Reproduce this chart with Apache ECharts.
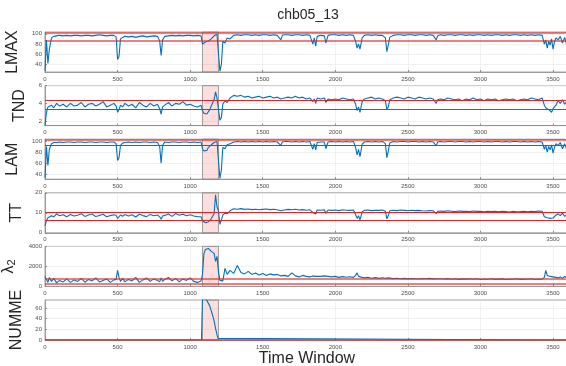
<!DOCTYPE html>
<html>
<head>
<meta charset="utf-8">
<script src="https://cdn.jsdelivr.net/npm/echarts@6/dist/echarts.min.js"></script>
<style>
  html, body { margin: 0; padding: 0; background: #fff; }
  #chart { width: 566px; height: 366px; }
</style>
</head>
<body>
<div id="chart"></div>
<script>
// time windows shared by the first five panels
var timeWin = [
  0, 10, 20, 30, 45, 60, 80,
  100, 125, 150, 175, 200, 225, 250, 275, 300, 325, 350, 375, 400, 425, 450, 475,
  490, 500, 510, 520, 535, 550,
  575, 600, 625, 650, 675, 700, 725, 750, 775,
  790, 800, 810,
  825, 850, 875, 900, 925, 950, 975, 1000, 1025, 1050, 1075,
  1085, 1095, 1105, 1115, 1125, 1135, 1145, 1155, 1165, 1175, 1185, 1195, 1205, 1215, 1225, 1240, 1255, 1275,
  1300, 1325, 1350, 1375, 1400, 1425, 1450, 1475, 1500, 1525, 1550, 1575, 1600,
  1625, 1635, 1650,
  1675, 1700, 1725, 1750, 1775, 1800, 1825,
  1845, 1855, 1865, 1875,
  1900, 1925, 1935, 1950,
  1975, 2000, 2025, 2050, 2075, 2100, 2125,
  2140, 2150, 2160, 2170, 2185,
  2200, 2225, 2250, 2275, 2300, 2325,
  2345, 2355, 2365, 2375,
  2400, 2425, 2450, 2475, 2500, 2525, 2550, 2575, 2600, 2625, 2650, 2675,
  2695, 2705,
  2725, 2750, 2775, 2800, 2825, 2850, 2875, 2900, 2925, 2950, 2975, 3000, 3025, 3050, 3075, 3100, 3125, 3150, 3175, 3200, 3225, 3250, 3275, 3300, 3325, 3350, 3375, 3400, 3425,
  3440, 3450, 3460, 3470, 3480, 3490, 3500, 3510, 3520,
  3535, 3550, 3565, 3580, 3595
];

var lmaxVals = [
  28, 88, 42, 70, 92, 95, 96,
  97, 96, 97, 96, 97, 97, 96, 97, 97, 96, 97, 98, 97, 96, 97, 97,
  94, 50, 56, 90, 93, 95,
  94, 95, 93, 95, 96, 94, 95, 96, 95,
  86, 58, 88,
  95, 96, 97, 96, 97, 96, 97, 97, 96, 97, 96,
  80, 78, 84, 82, 86, 88, 90, 93, 96, 98, 99, 96, 27, 40, 85, 82, 92, 90,
  97, 98, 97, 98, 98, 97, 98, 97, 98, 98, 97, 98, 97,
  88, 97, 98,
  98, 97, 98, 98, 97, 98, 97,
  80, 92, 76, 95,
  97, 96, 82, 97,
  98, 98, 97, 98, 97, 98, 97,
  85, 72, 80, 70, 92,
  97, 98, 97, 98, 97, 97,
  92, 65, 78, 93,
  97, 98, 98, 97, 98, 98, 97, 98, 98, 97, 98, 97,
  88, 96,
  98, 97, 98, 98, 97, 98, 98, 97, 98, 97, 98, 98, 97, 98, 97, 98, 98, 97, 98, 97, 98, 98, 97, 98, 97, 98, 97, 98, 97,
  80, 88, 72, 85, 78, 90, 70, 84, 92,
  88, 95, 82, 93, 78
];

var tndVals = [
  1.5, 3.0, 3.6, 3.4, 3.8, 3.5, 4.0,
  3.7, 3.9, 3.6, 4.0, 3.7, 3.8, 4.1, 3.6, 3.9, 4.0, 3.7, 3.9, 4.2, 3.6, 3.8, 4.0,
  3.7, 3.0, 3.3, 3.8, 3.6, 4.0,
  3.7, 3.9, 3.5, 4.1, 3.8, 3.6, 4.0, 3.7, 3.9,
  3.4, 2.8, 3.6,
  3.8, 4.1, 3.7, 4.0, 3.9, 4.2, 3.8, 3.9, 3.7, 3.6, 3.8,
  3.2, 2.9, 2.7, 2.8, 3.0, 3.3, 3.7, 3.9, 4.4, 5.3, 4.6, 4.4, 2.1, 2.4, 3.9, 4.3, 4.1, 4.6,
  4.9, 4.8, 4.9, 4.7, 4.8, 4.6, 4.7, 4.8, 4.6, 4.7, 4.8, 4.6, 4.7,
  4.5, 4.7, 4.6,
  4.7, 4.6, 4.8, 4.6, 4.7, 4.5, 4.6,
  4.2, 4.5, 4.0, 4.6,
  4.5, 4.6, 4.1, 4.5,
  4.4, 4.5, 4.4, 4.6, 4.5, 4.4, 4.5,
  3.9, 3.2, 3.6, 3.0, 4.2,
  4.5, 4.6, 4.7, 4.5, 4.6, 4.5,
  4.3, 3.3, 3.6, 4.4,
  4.6, 4.7, 4.6, 4.5, 4.7, 4.6, 4.5, 4.7, 4.6, 4.5, 4.6, 4.5,
  4.0, 4.4,
  4.5, 4.4, 4.6, 4.5, 4.4, 4.5, 4.3, 4.5, 4.4, 4.6, 4.4, 4.5, 4.3, 4.5, 4.4, 4.5, 4.3, 4.4, 4.5, 4.4, 4.5, 4.3, 4.4, 4.5, 4.4, 4.6, 4.5, 4.4, 4.6,
  3.8, 3.5, 3.6, 3.3, 3.5, 3.0, 3.4, 3.6, 3.8,
  4.3, 4.0, 4.4, 3.9, 4.2
];

var lamVals = [
  34, 90, 56, 85, 95, 97, 97,
  98, 97, 98, 98, 97, 98, 98, 97, 98, 98, 97, 98, 98, 97, 98, 98,
  95, 65, 70, 92, 96, 97,
  98, 97, 98, 97, 98, 98, 97, 98, 97,
  90, 60, 92,
  98, 97, 98, 98, 97, 98, 98, 97, 98, 97, 98,
  86, 82, 85, 83, 88, 90, 93, 95, 97, 98, 99, 97, 33, 48, 88, 86, 93, 95,
  98, 99, 98, 99, 98, 99, 98, 99, 98, 99, 98, 99, 98,
  92, 98, 99,
  99, 98, 99, 98, 99, 98, 99,
  85, 95, 84, 97,
  98, 98, 86, 98,
  99, 98, 99, 98, 99, 98, 99,
  88, 75, 85, 72, 94,
  98, 99, 98, 99, 98, 99,
  95, 70, 82, 96,
  99, 98, 99, 99, 98, 99, 99, 98, 99, 98, 99, 98,
  91, 98,
  99, 98, 99, 99, 98, 99, 99, 98, 99, 98, 99, 99, 98, 99, 98, 99, 99, 98, 99, 98, 99, 99, 98, 99, 98, 99, 98, 99, 98,
  85, 92, 80, 90, 84, 93, 78, 88, 95,
  92, 97, 86, 95, 84
];

var ttVals = [
  3.5, 6.0, 7.5, 7.0, 8.5, 8.0, 9.5,
  8.5, 9.0, 8.0, 9.2, 8.4, 8.8, 9.5, 8.2, 8.9, 9.4, 8.1, 8.7, 9.3, 8.0, 8.6, 9.0,
  8.8, 7.2, 7.8, 8.9, 8.3, 9.1,
  8.4, 9.0, 7.9, 9.3, 8.6, 8.1, 9.2, 8.5, 8.9,
  8.0, 6.8, 8.4,
  8.7, 9.4, 8.2, 9.6, 8.8, 9.3, 8.5, 9.0, 8.4, 8.1, 8.0,
  6.0, 5.2, 5.0, 5.1, 5.4, 6.0, 7.0, 8.0, 9.5, 19.0, 13.0, 11.0, 4.2, 4.8, 8.8, 9.8, 9.5, 11.0,
  12.0, 11.8, 12.1, 11.7, 11.9, 11.6, 11.8, 11.5, 11.7, 11.9, 11.6, 11.8, 11.5,
  11.0, 11.6, 11.4,
  11.7, 11.5, 11.8, 11.4, 11.6, 11.3, 11.5,
  10.2, 11.2, 9.4, 11.4,
  11.3, 11.5, 9.8, 11.4,
  11.2, 11.4, 11.1, 11.5, 11.3, 11.2, 11.4,
  9.0, 7.2, 8.5, 6.5, 10.5,
  11.2, 11.4, 11.1, 11.3, 11.2, 11.4,
  10.8, 7.0, 8.6, 11.0,
  11.3, 11.1, 11.4, 11.2, 11.0, 11.3, 11.1, 11.2, 11.0, 10.9, 11.1, 11.0,
  9.6, 10.8,
  10.9, 10.7, 11.0, 10.8, 10.6, 10.9, 10.7, 10.8, 10.6, 10.9, 10.7, 10.8, 10.5, 10.7, 10.6, 10.8, 10.5, 10.7, 10.6, 10.4, 10.7, 10.5, 10.6, 10.8, 10.5, 10.7, 10.6, 10.9, 10.8,
  8.0, 7.0, 7.5, 6.6, 7.2, 6.8, 7.4, 8.0, 8.8,
  9.5, 8.6, 9.8, 8.2, 9.0
];

var lambda2Vals = [
  1000, 700, 400, 900, 500, 800, 350,
  600, 450, 750, 400, 650, 500, 800, 420, 700, 550, 850, 450, 600, 750, 400, 650,
  700, 1600, 900, 500, 800, 450,
  700, 550, 900, 400, 650, 850, 500, 750, 600,
  450, 850, 500,
  700, 900, 550, 800, 450, 750, 600, 850, 500, 400, 550,
  1200, 3300, 3700, 3600, 3800, 3700, 3500, 3600, 3300, 2500, 3000, 1500, 600, 400, 550, 1800, 1200, 1600,
  1300, 2100, 1400, 1250, 1500, 1200, 1350, 1150, 1300, 1100, 1250, 1150, 1200,
  1050, 1200, 1100,
  1000, 1350, 1050, 950, 1100, 1000, 950,
  1050, 900, 1000, 950,
  1000, 1050, 950, 1000,
  950, 1000, 900, 980, 920, 960, 900,
  1100, 1350, 1000, 950, 900,
  850, 900, 820, 880, 800, 860,
  820, 780, 850, 800,
  780, 820, 760, 800, 750, 790, 770, 740, 780, 760, 800, 750,
  760, 800,
  770, 740, 780, 720, 760, 700, 750, 730, 770, 710, 760, 690, 740, 720, 760, 700, 730, 750, 690, 740, 710, 760, 700, 730, 720, 760, 690, 740, 720,
  900, 1600, 1100, 900, 1000, 850, 950, 800, 900,
  850, 950, 800, 1000, 900
];

// NUMME is flat zero outside the seizure window, so it has its own sparse windows
var nummeWin = [0, 495, 500, 505, 1078, 1085, 1095, 1105, 1115, 1125, 1135, 1145, 1155, 1165, 1175, 1185, 1192, 1200, 3445, 3450, 3455, 3600];
var nummeVals = [0, 0, 2, 0, 0, 78, 76, 80, 74, 72, 64, 55, 46, 36, 22, 10, 3, 0, 0, 2, 0, 0];

// thresholds (red lines) per panel
var lmaxLimits = [101.5, 87];
var tndLimits = [4.35, 3.3];
var lamLimits = [102, 92];
var ttLimits = [10.3, 6.5];
var lambda2Limits = [780, 250];
var nummeLimits = [0.6];

// y tick labels per panel
var lmaxTicks = [40, 60, 80, 100];
var tndTicks = [2, 4, 6];
var lamTicks = [40, 60, 80, 100];
var ttTicks = [0, 10, 20];
var lambda2Ticks = [0, 2000, 4000];
var nummeTicks = [0, 20, 40, 60];

var seizureWin = [1085, 1195];

var fontFamily = '"Liberation Sans", Arial, sans-serif';

var panels = [
  {name: 'LMAX', x: timeWin, y: lmaxVals, lim: lmaxLimits, ticks: lmaxTicks, min: 25.5, max: 103.5, thick: [true, true]},
  {name: 'TND', x: timeWin, y: tndVals, lim: tndLimits, ticks: tndTicks, min: 1.5, max: 6, thick: [false, false]},
  {name: 'LAM', x: timeWin, y: lamVals, lim: lamLimits, ticks: lamTicks, min: 31.5, max: 103, thick: [true, false]},
  {name: 'TT', x: timeWin, y: ttVals, lim: ttLimits, ticks: ttTicks, min: 0, max: 20, thick: [false, false]},
  {name: '\u03bb{sub|2}', x: timeWin, y: lambda2Vals, lim: lambda2Limits, ticks: lambda2Ticks, min: 0, max: 4000, thick: [true, true]},
  {name: 'NUMME', x: nummeWin, y: nummeVals, lim: nummeLimits, ticks: nummeTicks, min: 0, max: 75, thick: [true]}
];

function plainNum(v) { return String(v); }

var grids = [], xAxes = [], yAxes = [], series = [];

for (var i = 0; i < panels.length; i++) {
  var p = panels[i];
  var last = i === panels.length - 1;

  grids.push({
    left: 45, right: -3, top: 32 + i * 53.6, height: 40,
    outerBoundsMode: 'none', containLabel: false,
    show: true, borderColor: '#8c8c8c', borderWidth: 0.8, backgroundColor: '#fff'
  });

  xAxes.push({
    type: 'value', gridIndex: i, min: 0, max: 3610, interval: 500,
    name: last ? 'Time Window' : '',
    nameLocation: 'middle', nameGap: 9,
    nameTextStyle: {fontSize: 16, color: '#262626', fontFamily: fontFamily},
    axisLine: {show: true, lineStyle: {color: '#8c8c8c', width: 0.8}},
    axisTick: {inside: true, length: 2, lineStyle: {color: '#8c8c8c'}},
    axisLabel: {fontSize: 6, color: '#4d4d4d', margin: 4, showMaxLabel: false, fontFamily: fontFamily, formatter: plainNum},
    splitLine: {show: true, lineStyle: {color: '#e8e8e8', width: 0.6}}
  });

  yAxes.push({
    type: 'value', gridIndex: i, min: p.min, max: p.max,
    name: p.name, nameLocation: 'middle', nameGap: 17, nameRotate: 90,
    nameTextStyle: {
      fontSize: 16, color: '#262626', fontFamily: fontFamily,
      rich: {sub: {fontSize: 11, color: '#262626', verticalAlign: 'bottom', padding: [8, 0, 0, 0]}}
    },
    axisLine: {show: true, lineStyle: {color: '#8c8c8c', width: 0.8}},
    axisTick: {inside: true, length: 2, customValues: p.ticks, lineStyle: {color: '#8c8c8c'}},
    axisLabel: {fontSize: 6, color: '#4d4d4d', margin: 3, customValues: p.ticks, fontFamily: fontFamily, formatter: plainNum},
    splitLine: {show: true, lineStyle: {color: '#e8e8e8', width: 0.6}}
  });

  var lines = [];
  for (var k = 0; k < p.lim.length; k++) {
    lines.push({
      yAxis: p.lim[k],
      lineStyle: p.thick[k]
        ? {color: 'rgba(232,40,40,0.6)', width: 2.2, type: 'solid'}
        : {color: '#e82020', width: 1.2, type: 'solid'}
    });
  }

  var pts = [];
  for (var j = 0; j < p.x.length; j++) {
    pts.push([p.x[j], p.y[j]]);
  }

  series.push({
    type: 'line', xAxisIndex: i, yAxisIndex: i,
    data: pts, showSymbol: false, symbol: 'none',
    lineStyle: {color: '#0072BD', width: 1.1},
    markArea: {
      silent: true,
      itemStyle: {color: 'rgba(235,60,60,0.17)', borderColor: '#8a8a8a', borderWidth: 0.8},
      data: [[{xAxis: seizureWin[0]}, {xAxis: seizureWin[1]}]]
    },
    markLine: {
      silent: true, symbol: ['none', 'none'], label: {show: false},
      animation: false, data: lines
    }
  });
}

var myChart = echarts.init(document.getElementById('chart'), null, {renderer: 'canvas'});
myChart.setOption({
  animation: false,
  backgroundColor: '#fff',
  title: {
    text: 'chb05_13', left: 303, top: 3, textAlign: 'center',
    textStyle: {fontSize: 14, fontWeight: 'normal', color: '#262626', fontFamily: fontFamily}
  },
  grid: grids,
  xAxis: xAxes,
  yAxis: yAxes,
  series: series
});
</script>
</body>
</html>
